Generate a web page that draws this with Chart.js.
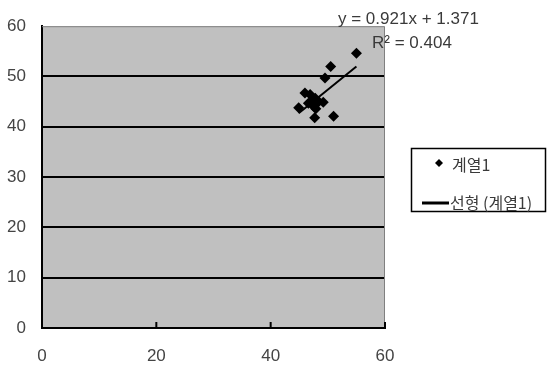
<!DOCTYPE html>
<html>
<head>
<meta charset="utf-8">
<script src="https://cdn.jsdelivr.net/npm/chart.js@4/dist/chart.umd.min.js"></script>
<style>
  html, body { margin: 0; padding: 0; background: #fff; }
  #wrap { width: 547px; height: 366px; }
</style>
</head>
<body>
<div id="wrap"><canvas id="scatter-chart" width="547" height="366"></canvas></div>
<script>
// 데이터
const seriesX = [55.0, 50.5, 49.5, 46.0, 46.9, 47.8, 47.2, 46.6, 48.4, 49.2, 47.5, 44.9, 47.9, 47.7, 51.0];
const seriesY = [54.6, 52.0, 49.7, 46.7, 46.4, 45.7, 45.0, 44.7, 45.0, 44.9, 44.1, 43.8, 43.6, 41.8, 42.1];
const trendX = [44.9, 55.0];
const trendY = [42.7, 52.0];
const seriesName = '계열1';
const trendName = '선형 (계열1)';
const trendLabel = ['y = 0.921x + 1.371', 'R² = 0.404'];

const numFont = '"Liberation Sans", Arial, sans-serif';
const krFont = '"Noto Sans CJK KR", "Liberation Sans", sans-serif';

// 회색 배경, 테두리, x축 눈금, 범례, 추세선 수식
const excelLook = {
    id: 'excelLook',
    beforeDraw(chart) {
        const { ctx, chartArea: a } = chart;
        ctx.save();
        ctx.fillStyle = '#c0c0c0';
        ctx.fillRect(a.left, a.top, a.right - a.left, a.bottom - a.top);
        ctx.restore();
    },
    afterDraw(chart) {
        const { ctx, chartArea: a, scales } = chart;
        ctx.save();
        // 위/오른쪽 테두리
        ctx.strokeStyle = '#808080';
        ctx.lineWidth = 1;
        ctx.beginPath();
        ctx.moveTo(a.left, a.top + 0.5);
        ctx.lineTo(a.right - 0.5, a.top + 0.5);
        ctx.lineTo(a.right - 0.5, a.bottom);
        ctx.stroke();

        // x축 안쪽 눈금
        ctx.strokeStyle = '#000';
        ctx.lineWidth = 2;
        scales.x.ticks.forEach(t => {
            if (t.value === 0) return;
            const px = scales.x.getPixelForValue(t.value);
            ctx.beginPath();
            ctx.moveTo(px, a.bottom);
            ctx.lineTo(px, a.bottom - 6);
            ctx.stroke();
        });

        // 추세선 수식
        ctx.fillStyle = '#3a3a3a';
        ctx.font = '17px ' + numFont;
        ctx.textBaseline = 'middle';
        ctx.textAlign = 'left';
        ctx.fillText(trendLabel[0], 338, 19);
        ctx.fillText(trendLabel[1], 372, 43);

        // 범례
        ctx.strokeStyle = '#000';
        ctx.lineWidth = 1.5;
        ctx.strokeRect(411.5, 148.5, 134, 63);
        ctx.fillStyle = '#000';
        ctx.beginPath();
        ctx.moveTo(439, 159);
        ctx.lineTo(443, 163);
        ctx.lineTo(439, 167);
        ctx.lineTo(435, 163);
        ctx.closePath();
        ctx.fill();
        ctx.lineWidth = 3;
        ctx.beginPath();
        ctx.moveTo(422, 203);
        ctx.lineTo(449, 203);
        ctx.stroke();
        ctx.fillStyle = '#3a3a3a';
        ctx.font = '16px ' + krFont;
        ctx.fillText(chart.data.datasets[0].label, 452, 165);
        ctx.fillText(chart.data.datasets[1].label, 450, 203);
        ctx.restore();
    }
};

const ctx = document.getElementById('scatter-chart');
new Chart(ctx, {
    type: 'scatter',
    data: {
        datasets: [{
            label: seriesName,
            data: seriesX.map((x, i) => ({ x: x, y: seriesY[i] })),
            pointStyle: 'rectRot',
            pointRadius: 5.5,
            pointHoverRadius: 5.5,
            backgroundColor: '#000',
            borderColor: '#000',
            borderWidth: 0
        }, {
            label: trendName,
            type: 'line',
            data: trendX.map((x, i) => ({ x: x, y: trendY[i] })),
            borderColor: '#000',
            borderWidth: 2,
            pointRadius: 0,
            fill: false
        }]
    },
    options: {
        responsive: false,
        animation: false,
        events: [],
        layout: {
            padding: { top: 22, right: 162, left: 0, bottom: 0 }
        },
        plugins: {
            legend: { display: false },
            tooltip: { enabled: false }
        },
        scales: {
            x: {
                type: 'linear',
                min: 0,
                max: 60,
                afterFit: s => { s.height = 38; },
                ticks: {
                    stepSize: 20,
                    padding: 18,
                    color: '#444',
                    font: { family: numFont, size: 17 }
                },
                grid: { display: false, drawTicks: false },
                border: { display: true, color: '#000', width: 2 }
            },
            y: {
                min: 0,
                max: 60,
                afterFit: s => { s.width = 42; },
                ticks: {
                    stepSize: 10,
                    padding: 16,
                    color: '#444',
                    font: { family: numFont, size: 17 }
                },
                grid: {
                    drawTicks: false,
                    color: c => (c.tick.value === 0 || c.tick.value === 60) ? 'rgba(0,0,0,0)' : '#000',
                    lineWidth: 2
                },
                border: { display: true, color: '#000', width: 2 }
            }
        }
    },
    plugins: [excelLook]
});
</script>
</body>
</html>
